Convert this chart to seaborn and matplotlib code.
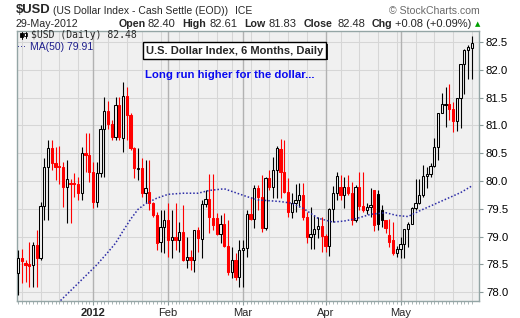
import numpy as np
import pandas as pd
import matplotlib
matplotlib.use("Agg")
import matplotlib.pyplot as plt
from matplotlib.patches import Rectangle
from matplotlib.lines import Line2D
import seaborn as sns

# ---------------- data ----------------
opens = [78.34, 78.62, 78.52, 78.50, 78.48, 78.85, 78.62, 79.55, 80.25, 80.59,
         80.32, 80.27, 80.26, 79.90, 79.97, 79.96, 79.95, 79.79, 80.50, 80.47,
         80.17, 79.62, 80.14, 80.93, 81.26, 81.02, 80.80, 81.37, 80.77, 81.53,
         81.19, 80.59, 80.22, 80.23, 79.78, 79.80, 79.60, 79.39, 78.90, 79.17,
         79.30, 78.94, 78.99, 78.94, 79.09, 78.58, 78.64, 78.58, 79.12, 78.95,
         79.59, 79.67, 79.33, 79.33, 79.05, 79.22, 78.83, 78.36, 78.58, 78.27,
         78.75, 78.79, 79.41, 79.31, 79.87, 79.71, 79.15, 80.05, 79.90, 80.20,
         80.57, 80.17, 79.80, 79.45, 79.60, 79.65, 79.75, 79.36, 78.99, 79.04,
         79.14, 79.19, 79.01, 78.83, 79.49, 79.78, 79.90, 79.74, 79.90, 79.79,
         79.30, 79.90, 79.55, 79.48, 79.54, 79.83, 79.77, 79.48, 79.30, 79.03,
         78.93, 78.71, 78.78, 78.86, 79.13, 79.23, 79.51, 79.60, 79.75, 80.09,
         80.13, 80.27, 80.62, 81.22, 81.37, 81.38, 81.29, 81.08, 81.49, 82.11,
         82.35, 82.40]
highs = [78.76, 78.78, 78.58, 78.91, 78.91, 79.12, 79.63, 80.41, 80.74, 80.74,
         80.62, 80.63, 80.35, 80.38, 80.03, 80.14, 80.08, 80.62, 80.86, 80.86,
         80.35, 80.35, 81.01, 81.51, 81.44, 81.10, 81.51, 81.51, 81.78, 81.69,
         81.22, 80.62, 80.59, 80.41, 80.38, 80.38, 79.62, 79.45, 79.48, 79.48,
         79.60, 79.48, 79.60, 79.27, 79.57, 79.00, 78.76, 79.12, 79.18, 79.66,
         79.84, 80.13, 80.13, 79.42, 79.39, 79.42, 79.30, 78.82, 78.70, 78.94,
         78.94, 79.48, 79.72, 79.93, 79.93, 80.11, 80.08, 80.20, 80.44, 80.63,
         80.75, 80.74, 80.05, 79.78, 79.95, 79.96, 79.96, 79.45, 79.54, 79.39,
         79.36, 79.36, 79.05, 79.51, 79.91, 80.17, 80.11, 80.07, 80.11, 79.99,
         79.93, 80.17, 80.17, 79.60, 79.87, 79.83, 79.84, 79.57, 79.30, 79.31,
         79.27, 78.83, 79.00, 79.13, 79.27, 79.54, 80.03, 80.03, 80.29, 80.25,
         80.32, 80.78, 81.22, 81.59, 81.69, 81.75, 81.43, 81.49, 82.11, 82.38,
         82.44, 82.61]
lows = [77.95, 78.16, 78.18, 78.10, 78.10, 78.10, 78.58, 79.29, 79.29, 80.20,
        80.02, 79.95, 79.54, 79.24, 79.24, 79.72, 79.65, 79.66, 80.17, 79.99,
        79.51, 79.54, 80.08, 80.08, 80.93, 80.74, 80.74, 80.74, 80.53, 80.74,
        80.56, 80.05, 80.02, 79.72, 79.60, 79.48, 79.36, 78.76, 78.73, 78.70,
        78.64, 78.61, 78.76, 78.73, 78.56, 78.43, 78.40, 78.37, 78.73, 78.61,
        79.54, 79.06, 79.12, 79.03, 78.88, 78.82, 78.31, 78.25, 78.22, 78.10,
        78.10, 78.64, 79.30, 79.15, 79.48, 79.09, 79.12, 79.84, 79.69, 79.69,
        79.69, 79.78, 79.36, 79.33, 79.45, 79.54, 79.30, 78.89, 78.77, 78.77,
        78.97, 78.73, 78.73, 78.65, 79.27, 79.66, 79.66, 79.51, 79.75, 79.21,
        79.27, 79.48, 79.45, 79.41, 79.36, 79.10, 79.12, 79.18, 79.07, 78.82,
        78.67, 78.64, 78.61, 78.61, 78.82, 79.22, 79.48, 79.59, 79.72, 79.87,
        80.08, 80.26, 80.38, 81.22, 80.98, 81.10, 80.89, 80.90, 80.95, 81.57,
        81.83, 81.83]
closes = [78.62, 78.56, 78.48, 78.47, 78.85, 78.62, 79.55, 80.25, 80.59, 80.32,
          80.26, 80.25, 79.90, 80.03, 79.95, 79.94, 79.79, 80.50, 80.47, 80.17,
          79.62, 80.14, 80.93, 81.26, 81.02, 80.80, 81.37, 80.80, 81.53, 81.19,
          80.59, 80.23, 80.24, 79.78, 79.87, 79.60, 79.39, 78.88, 79.17, 79.30,
          78.94, 78.99, 78.93, 79.09, 78.58, 78.64, 78.58, 79.12, 78.97, 79.59,
          79.67, 79.35, 79.21, 79.05, 79.22, 78.83, 78.36, 78.58, 78.27, 78.75,
          78.79, 79.41, 79.31, 79.87, 79.71, 79.15, 80.05, 79.90, 80.20, 80.59,
          80.17, 79.80, 79.45, 79.60, 79.65, 79.75, 79.36, 78.99, 79.04, 79.14,
          79.19, 79.01, 78.83, 79.49, 79.78, 80.09, 79.74, 79.90, 79.79, 79.30,
          79.90, 79.55, 79.48, 79.54, 79.57, 79.21, 79.23, 79.30, 79.15, 78.91,
          78.71, 78.78, 78.86, 79.13, 79.23, 79.51, 79.60, 79.75, 80.09, 80.13,
          80.27, 80.62, 81.22, 81.38, 81.39, 81.29, 81.08, 81.49, 82.11, 82.35,
          82.41, 82.48]

# 50-day moving average, read at selected bars
ma_idx = [10, 15, 18, 21, 24, 26, 28, 30, 32, 34, 37, 40, 44, 48, 51, 55, 58,
          61, 64, 70, 73, 76, 80, 84, 87, 90, 94, 98, 101, 104, 107, 110, 114,
          118, 121]
ma_vals = [77.76, 78.09, 78.29, 78.49, 78.72, 78.88, 79.10, 79.31, 79.49, 79.59,
           79.69, 79.76, 79.78, 79.78, 79.83, 79.86, 79.79, 79.72, 79.66, 79.63,
           79.60, 79.51, 79.33, 79.26, 79.28, 79.32, 79.40, 79.43, 79.38, 79.36,
           79.46, 79.55, 79.67, 79.79, 79.91]

start_date, end_date = "2011-12-02", "2012-05-29"
holidays = ["2011-12-26", "2012-01-02", "2012-01-16", "2012-02-20",
            "2012-04-06", "2012-05-28"]
ytick_vals = [78.0, 78.5, 79.0, 79.5, 80.0, 80.5, 81.0, 81.5, 82.0, 82.5]

# ---------------- style ----------------
sns.set_style("white")
plt.rcParams['font.family'] = ['Liberation Sans', 'DejaVu Sans']

W, H = 520, 318
fig = plt.figure(figsize=(W / 100, H / 100), dpi=100)
fig.patch.set_facecolor('white')
ax = fig.add_axes([17 / W, 1 - 301 / H, 462 / W, 270 / H])
BG = '#F0F0F0'
RED = '#FF0000'
ax.set_facecolor(BG)

dates = pd.bdate_range(start_date, end_date)
dates = dates[~dates.isin(pd.to_datetime(holidays))]
n = len(dates)

# grid lines: weekly (light) and monthly (darker)
month_starts = [i for i in range(1, n) if dates[i].month != dates[i - 1].month]
week_starts = [i for i in range(1, n) if dates[i].weekday() < dates[i - 1].weekday()]
for v in ytick_vals:
    ax.axhline(v, color='#D6D6D6', lw=0.75, zorder=0)
for i in week_starts:
    if i not in month_starts:
        ax.axvline(i, color='#D6D6D6', lw=0.75, zorder=0)
for i in month_starts:
    ax.axvline(i, color='#B2B2B2', lw=1.0, zorder=0)

# candles
bw = 0.62
for i in range(n):
    o, h, l, c = opens[i], highs[i], lows[i], closes[i]
    col = 'black' if (i == 0 or c >= closes[i - 1]) else RED
    ax.vlines(i, l, h, color=col, lw=0.8, zorder=5)
    face = col if c < o else BG
    ax.add_patch(Rectangle((i - bw / 2, min(o, c)), bw, max(abs(c - o), 0.004),
                           facecolor=face, edgecolor=col, lw=0.75, zorder=6))

# moving average
ma_df = pd.DataFrame({'bar': ma_idx, 'ma': ma_vals})
sns.lineplot(data=ma_df, x='bar', y='ma', ax=ax, color='#2B2BA6', lw=1.1, zorder=7)
ax.lines[-1].set_linestyle((0, (1.0, 1.3)))

ax.set_xlim(-0.27, 122.93)
ax.set_ylim(77.84, 82.70)
ax.set_xlabel('')
ax.set_ylabel('')

# axes
ax.yaxis.tick_right()
ax.set_yticks(ytick_vals)
ax.set_yticklabels([f'{v:.1f}' for v in ytick_vals])
ax.tick_params(axis='y', right=True, length=3, width=0.8, color='#8A9A9A',
               labelsize=8.2, pad=2, labelcolor='black')
ax.set_xticks(month_starts)
mlabels = ['2012' if dates[i].month == 1 else dates[i].strftime('%b') for i in month_starts]
ax.set_xticklabels(mlabels)
for t, d in zip(ax.get_xticklabels(), month_starts):
    if dates[d].month == 1:
        t.set_fontweight('bold')
ax.set_xticks(np.arange(n), minor=True)
ax.tick_params(axis='x', which='major', bottom=True, length=3, width=0.8,
               color='#8A9A9A', labelsize=8, pad=2)
ax.tick_params(axis='x', which='minor', bottom=True, length=2, width=0.7,
               color='#A8B4B4')
for s in ax.spines.values():
    s.set_color('#94A5A5')
    s.set_linewidth(1.0)

# ---------------- header texts ----------------
renderer = fig.canvas.get_renderer()


def ftxt(x, y, s, **kw):
    kw.setdefault('va', 'center')
    kw.setdefault('ha', 'left')
    return fig.text(x / W, 1 - y / H, s, **kw)


ftxt(15.5, 10, '$USD', fontsize=9.4, fontweight='bold')
ftxt(53, 10.5, '(US Dollar Index - Cash Settle (EOD))', fontsize=7.5)
ftxt(235.5, 10.5, 'ICE', fontsize=7.5)
ftxt(480, 10.5, '\u00a9 StockCharts.com', fontsize=7.6, ha='right', color='#6A6A6A')
ftxt(15, 24, '29-May-2012', fontsize=7.7)
hdr = [(118.3, 'Open', True), (146.7, '82.40', False), (182.7, 'High', True),
       (209, '82.61', False), (244.3, 'Low', True), (267.3, '81.83', False),
       (303.3, 'Close', True), (337.7, '82.48', False), (371.7, 'Chg', True),
       (389.3, '+0.08 (+0.09%)', False)]
prev_end = 0
for x, s, b in hdr:
    x = max(x, prev_end + 2.5)
    t = ftxt(x, 24, s, fontsize=7.7 if b else 8.0,
             fontweight='bold' if b else 'normal')
    prev_end = t.get_window_extent(renderer=renderer).x1
ftxt(max(475, prev_end + 3), 24, '\u25b2', fontsize=5, color='#00A000',
     family=['DejaVu Sans'])

# legend inside plot
for dx, y0, y1, b0, b1, fc in [(21.5, 32, 38.5, 33.5, 37, 'black'),
                                (25.5, 31.5, 38, 33, 36, 'white')]:
    fig.add_artist(Line2D([dx / W, dx / W], [1 - y0 / H, 1 - y1 / H],
                          color='black', lw=0.7))
    fig.add_artist(Rectangle(((dx - 1.3) / W, 1 - b1 / H), 2.6 / W, (b1 - b0) / H,
                             facecolor=fc, edgecolor='black', lw=0.6))
ftxt(31, 35, '$USD (Daily) 82.48', fontsize=7, family=['DejaVu Sans Mono'])
ftxt(17.5, 47, '\u00b7\u00b7\u00b7', fontsize=7, color='#1E1E8C', family=['DejaVu Sans'])
ftxt(30, 47, 'MA(50) 79.91', fontsize=7.5, color='#1E1E8C')

# annotations
box_t = ftxt(146, 50.5, 'U.S. Dollar Index, 6 Months, Daily', fontsize=8,
             fontweight='bold',
             bbox=dict(boxstyle='square,pad=0.28', facecolor='white',
                       edgecolor='black', lw=1))
fig.canvas.draw()
bb = box_t.get_bbox_patch().get_window_extent(renderer=renderer)
fig.add_artist(Rectangle(((bb.x0 + 1.5) / W, (bb.y0 - 1.5) / H), bb.width / W,
                         bb.height / H, facecolor='#202020', edgecolor='none',
                         zorder=2.9))
ftxt(145, 75, 'Long run higher for the dollar...', fontsize=8.2, fontweight='bold',
     color='#0A0AF0')

fig.savefig('out.png', dpi=100, facecolor='white')
